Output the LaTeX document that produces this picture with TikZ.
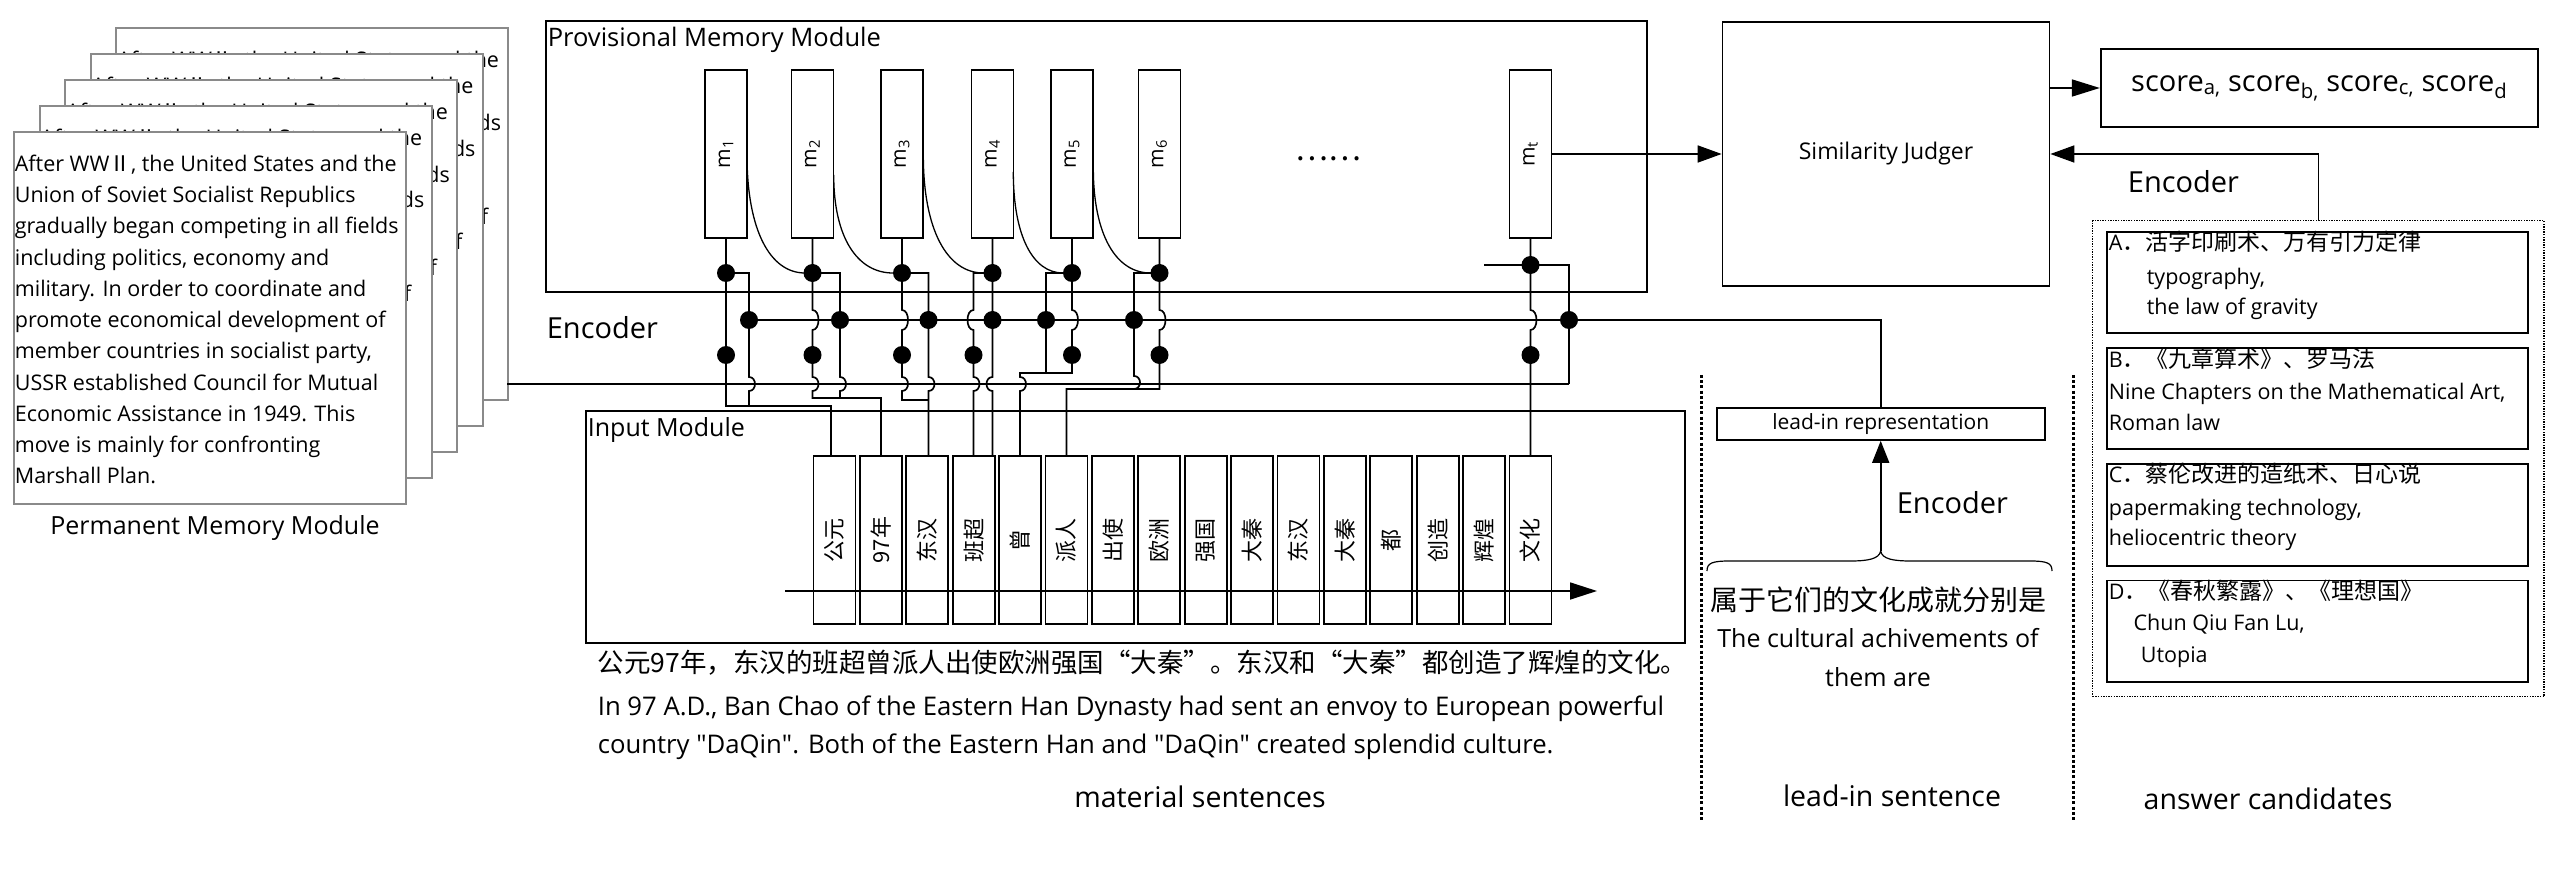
\documentclass[tikz,border=0pt]{standalone}
\usepackage{fontspec}
\setmainfont{Open Sans}
\newfontfamily\cjk{Noto Sans CJK SC}
\usetikzlibrary{arrows.meta}
\definecolor{pagegray}{HTML}{8A8A8A}
\newcommand\fs[1]{\fontsize{#1pt}{#1pt}\selectfont}
\newcommand\hopR[3]{-- (#1,#2-#3) .. controls (#1+8,#2-#3) and (#1+8,#2+#3) .. (#1,#2+#3)}
\newcommand\hopL[3]{-- (#1,#2-#3) .. controls (#1-8,#2-#3) and (#1-8,#2+#3) .. (#1,#2+#3)}
\newcommand\mcurve[3]{(#1,#2) .. controls (#1,{#2+0.64*(273-#2)}) and ({#1+0.4*(#3-#1)},273) .. (#3,273)}
\begin{document}
\begin{tikzpicture}[x=1pt,y=-1pt,line width=1.7pt,
  box/.style={draw, inner sep=0pt},
  page/.style={draw=pagegray, fill=white, line width=2pt, minimum width=392pt, minimum height=372pt, inner sep=0pt},
  txt/.style={inner sep=0pt, text height=0.75em, text depth=0.25em},
  divider/.style={line width=3pt, dash pattern=on 3pt off 2.2pt},
  dotbox/.style={draw, line width=1.4pt, dash pattern=on 1.4pt off 1.2pt, inner sep=0pt},
  tip/.style={-{Triangle[length=#1,width=17pt]}}]
\fill[white] (0,0) rectangle (2562,874);
\useasboundingbox (0,0) rectangle (2562,874);

% ---------------- permanent memory pages
\foreach \k in {5,4,3,2,1} {
  \pgfmathsetmacro\pgL{13+25.6*(\k-1)}
  \pgfmathsetmacro\pgT{131-25.9*(\k-1)}
  \node[page, anchor=north west] (page\k) at (\pgL,\pgT) {};
  \foreach \ln [count=\i from 0] in {{After WW{\cjk Ⅱ}, the United States and the},{Union of Soviet Socialist Republics},{gradually began competing in all fields},{including politics, economy and},{military. In order to coordinate and},{promote economical development of},{member countries in socialist party,},{USSR established Council for Mutual},{Economic Assistance in 1949. This},{move is mainly for confronting},{Marshall Plan.}} {
    \node[anchor=base west, inner sep=0pt, font=\fs{21.5}] (pg\k-\i) at (\pgL+1,\pgT+40.4+31.25*\i) {\ln};
  }
}
\node[txt, font=\fs{25}] (permlab) at (215,532) {Permanent Memory Module};

% ---------------- provisional memory module
\node[box, minimum width=1101pt, minimum height=271pt] (pmm) at (1096.5,156.5) {};
\node[txt, anchor=west, font=\fs{25.5}] (pmmlab) at (547,44) {Provisional Memory Module};
\foreach \n/\x in {1/726,2/812.5,3/902,4/992.5,5/1072,6/1159.5,t/1530.5} {
  \node[box, minimum width=42pt, minimum height=168pt] (m\n) at (\x,154) {};
  \node[rotate=90, inner sep=0pt, font=\fs{21}] (ml\n) at (\x,154) {m\textsubscript{\n}};
}
\node[inner sep=0pt, font=\cjk\fs{31}] (mdots) at (1328,159) {……};
\node[txt, anchor=west, font=\fs{29}] (encL) at (546,336) {Encoder};

% ---------------- input module
\node[box, minimum width=1099pt, minimum height=232pt] (inp) at (1135.5,527) {};
\node[txt, anchor=west, font=\fs{25}] (inplab) at (587,434) {Input Module};
\foreach \w [count=\i] in {公元,97年,东汉,班超,曾,派人,出使,欧洲,强国,大秦,东汉,大秦,都,创造,辉煌,文化} {
  \pgfmathsetmacro\tx{834.5+46.4*(\i-1)}
  \node[box, minimum width=42pt, minimum height=168pt] (tok\i) at (\tx,540) {};
  \node[rotate=90, inner sep=0pt, font=\cjk\fs{22}] (tl\i) at (\tx,540) {\w};
}
\coordinate (arrS) at (785,591);
\coordinate (arrE) at (1597,591);
\draw[tip=27pt] (arrS) -- (arrE);

\node[txt, anchor=west, font=\cjk\fs{26.5}] (mat1) at (597,670) {公元97年，东汉的班超曾派人出使欧洲强国“大秦”。东汉和“大秦”都创造了辉煌的文化。};
\node[txt, anchor=west, font=\fs{25.7}] (mat2) at (597,713) {In 97 A.D., Ban Chao of the Eastern Han Dynasty had sent an envoy to European powerful};
\node[txt, anchor=west, font=\fs{25.7}] (mat3) at (597,751) {country \textquotedbl DaQin\textquotedbl. Both of the Eastern Han and \textquotedbl DaQin\textquotedbl\ created splendid culture.};
\node[txt, font=\fs{28.5}] (matlab) at (1200,805) {material sentences};

% ---------------- wiring
\draw (m1.south) -- (726,406) -- (831,406) -- (831,456);
\draw (726,273) -- (749,273) -- (749,320) \hopR{749}{384}{7} -- (749,406);
\draw (m2.south) \hopR{812.5}{320}{10} \hopR{812.5}{384}{7} -- (812.5,398) -- (880.9,398) -- (tok2.north);
\draw (812.5,273) -- (840,273) \hopR{840}{384}{7} -- (840,398);
\draw (m3.south) \hopR{902}{320}{10} \hopR{902}{384}{7} -- (902,400) -- (928.5,400);
\draw (902,273) -- (928.5,273) \hopR{928.5}{384}{7} -- (928.5,456);
\draw (m4.south) \hopL{992.5}{384}{7} -- (992.5,456);
\draw (992.5,273) -- (973.5,273) \hopL{973.5}{320}{10} \hopR{973.5}{384}{7} -- (973.5,456);
\draw (m5.south) \hopR{1072}{320}{10} -- (1072,373) -- (1020,373) \hopR{1020}{384}{7} -- (1020,456);
\draw (1072,273) -- (1046,273) -- (1046,373);
\draw (m6.south) \hopR{1159.5}{320}{10} -- (1159.5,389) -- (1066.5,389) -- (tok6.north);
\draw (1159.5,273) -- (1134,273) -- (1134,376) .. controls (1142,376) and (1142,389) .. (1134,389);
\draw (mt.south) \hopR{1530.5}{320}{10} -- (tok16.north);
\draw (1484,265) -- (1569,265) -- (1569,384);
\draw (507.4,384) -- (1569,384);
\draw (749,320) -- (1880.7,320) -- (1880.7,408);
\draw[line width=1.3pt] \mcurve{747}{155}{805};
\draw[line width=1.3pt] \mcurve{833.7}{175}{893};
\draw[line width=1.3pt] \mcurve{923.3}{155}{983.5};
\draw[line width=1.3pt] \mcurve{1013.3}{172}{1063};
\draw[line width=1.3pt] \mcurve{1093.3}{168}{1150.5};
\foreach \p in {(726,273),(812.5,273),(902,273),(992.5,273),(1072,273),(1159.5,273),(1530.5,265),
  (749,320),(840,320),(928.5,320),(992.5,320),(1046,320),(1134,320),(1569,320),
  (726,355),(812.5,355),(902,355),(973.5,355),(1072,355),(1159.5,355),(1530.5,355)}
  \fill \p circle[radius=9];

% ---------------- similarity judger and scores
\node[box, minimum width=327pt, minimum height=264pt, font=\fs{23}] (sim) at (1886,154) {Similarity Judger};
\node[box, minimum width=437pt, minimum height=78pt, font=\fs{29}] (score) at (2319.2,88) {score\textsubscript{a,} score\textsubscript{b,} score\textsubscript{c,} score\textsubscript{d}};
\draw[tip=24pt] (mt.east) -- (sim.west |- mt.east);
\draw[tip=28pt] (sim.east |- score.west) -- (score.west);

% ---------------- answer candidates
\node[dotbox, minimum width=451.3pt, minimum height=476pt] (ans) at (2318.35,458.7) {};
\draw[tip=24pt] (ans.north) |- (sim.east);
\node[txt, anchor=west, font=\fs{29}] (encR) at (2127,190) {Encoder};
\foreach \n/\y in {A/282.5,B/398.5,C/514.9,D/631.2} {
  \node[box, minimum width=421.6pt, minimum height=101.6pt] (opt\n) at (2317.5,\y) {};
}
\begin{scope}[every node/.style={txt, anchor=west, font=\fs{21.5}}]
\node (a1) at (2108,248) {A{\cjk\fs{23}．活字印刷术、万有引力定律}};
\node (a2) at (2146,281.7) {typography,};
\node (a3) at (2146,311.7) {the law of gravity};
\node (b1) at (2108,365) {B{\cjk\fs{23}．《九章算术》、罗马法}};
\node (b2) at (2108,396.7) {Nine Chapters on the Mathematical Art,};
\node (b3) at (2108,428) {Roman law};
\node (c1) at (2108,480) {C{\cjk\fs{23}．蔡伦改进的造纸术、日心说}};
\node (c2) at (2108,513) {papermaking technology,};
\node (c3) at (2108,543) {heliocentric theory};
\node (d1) at (2108,596.7) {D{\cjk\fs{23}．《春秋繁露》、《理想国》}};
\node (d2) at (2132.7,628) {Chun Qiu Fan Lu,};
\node (d3) at (2140,660) {Utopia};
\end{scope}
\node[txt, font=\fs{28.5}] (anslab) at (2268,807) {answer candidates};

% ---------------- lead-in
\node[box, minimum width=328pt, minimum height=32pt, font=\fs{21}] (lead) at (1880.7,424) {lead-in representation};
\coordinate (btip) at (1880.7,551);
\draw[tip=22pt] (btip) -- (lead.south);
\node[txt, anchor=west, font=\fs{29}] (encM) at (1896,511) {Encoder};
\draw[line width=1.2pt] (1707,571) .. controls (1707,563) and (1712,561) .. (1730,561) -- (1850,561)
  .. controls (1868,561) and (1879,559) .. (btip) .. controls (1882,559) and (1893,561) .. (1911,561)
  -- (2030,561) .. controls (2047,561) and (2052,563) .. (2052,571);
\node[txt, font=\cjk\fs{28}] (li1) at (1878,608) {属于它们的文化成就分别是};
\node[txt, font=\fs{25}] (li2) at (1878,645) {The cultural achivements of};
\node[txt, font=\fs{25}] (li3) at (1878,683.7) {them are};
\node[txt, font=\fs{28.5}] (lilab) at (1892,804) {lead-in sentence};
\draw[divider] (1701.7,375) -- (1701.7,822);
\draw[divider] (2073.5,375) -- (2073.5,822);
\end{tikzpicture}
\end{document}
